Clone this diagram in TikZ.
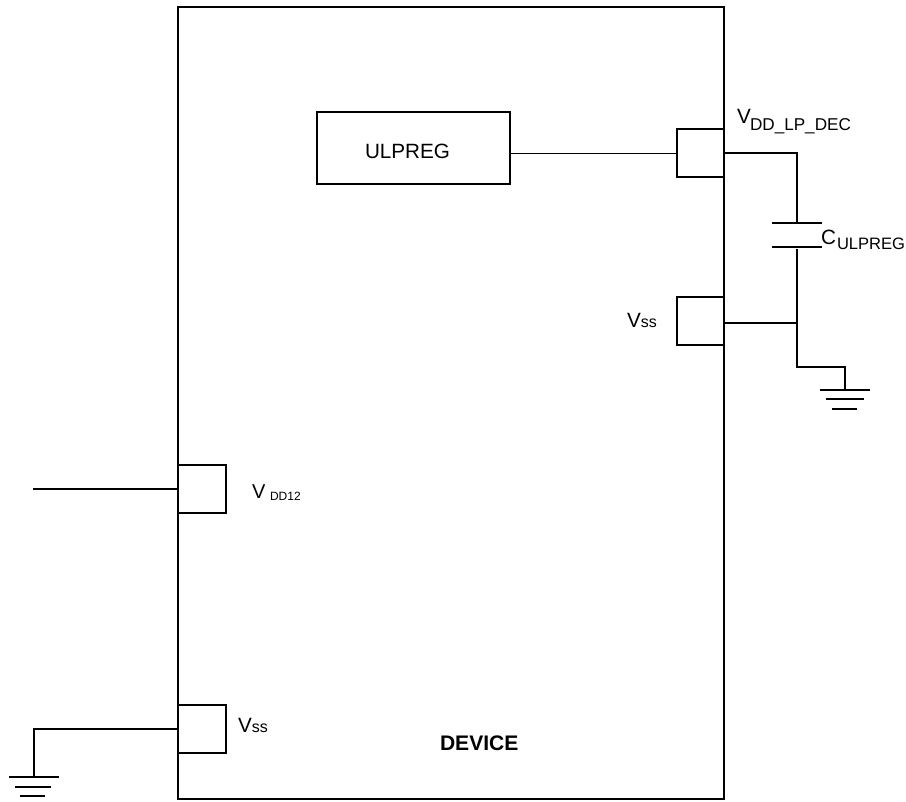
\documentclass[tikz,border=0pt]{standalone}
\usepackage{fontspec}
\setmainfont{Liberation Sans}
\newcommand{\fs}[1]{\fontsize{#1pt}{#1pt}\selectfont}
\newcommand{\pxbox}[5]{% name x0 y0 x1 y1 (pixels)
  \pgfmathsetmacro{\bw}{(#4-(#2))*0.75}\pgfmathsetmacro{\bh}{(#5-(#3))*0.75}
  \node[boxn,minimum width=\bw pt,minimum height=\bh pt] (#1) at ({(#2+#4)/2},{(#3+#5)/2}) {};}
\tikzset{
  x=0.75pt,y=-0.75pt,
  wire/.style={line width=1.15pt,line cap=butt,line join=miter},
  thinwire/.style={line width=0.6pt},
  boxn/.style={draw,line width=1.15pt,inner sep=0pt,outer sep=0pt},
  lbl/.style={anchor=base west,inner sep=0pt,outer sep=0pt},
}
\begin{document}
\begin{tikzpicture}
\useasboundingbox (0,0) rectangle (906,801);
\pxbox{device}{178}{7}{724}{799}
\pxbox{ulp}{317}{112}{510}{184}
\pxbox{padA}{677}{129}{724}{177}
\pxbox{padB}{677}{297}{724}{345}
\pxbox{padC}{178}{465}{226}{513}
\pxbox{padD}{178}{705}{226}{753}

\coordinate (capT) at (797,223);
\coordinate (capTl) at (772,223);
\coordinate (capTr) at (822,223);
\coordinate (capB) at (797,249);
\coordinate (capBl) at (772,247);
\coordinate (capBr) at (822,247);
\coordinate (padBo) at (724,323);
\coordinate (junc) at (797,323);
\coordinate (bend) at (797,367);
\coordinate (gndR) at (845,390);
\coordinate (gndL) at (34,777);
\coordinate (free) at (33,489);

\draw[thinwire] (padA.west) -- (padA.west -| ulp.east);
\draw[wire] (padA.east) -| (capT);
\draw[wire] (capTl) -- (capTr);
\draw[wire] (capBl) -- (capBr);
\draw[wire] (capB) -- (bend) -| (gndR);
\draw[wire] (padBo) -- (junc);
\draw[wire] (820,390) -- (870,390);
\draw[wire] (826,399) -- (864,399);
\draw[wire] (832,409) -- (857,409);

\draw[wire] (free) -- (padC.west);
\draw[wire] (padD.west) -| (gndL);
\draw[wire] (9,777) -- (59,777);
\draw[wire] (15,787) -- (51,787);
\draw[wire] (20,796) -- (45,796);

\node[lbl] (tulp) at (365,158) {\fs{15.5}ULPREG};
\node[lbl] (tvA) at (737,123) {\fs{15.5}V};
\node[lbl] (tvAs) at (750,130) {\fs{12.85}DD\_LP\_DEC};
\node[lbl] (tc) at (821,244) {\fs{15.5}C};
\node[lbl] (tcs) at (837,249) {\fs{12.4}ULPREG};
\node[lbl] (tvB) at (627,327) {\fs{15.5}V\fs{12}ss};
\node[lbl] (tvC) at (252,498) {\fs{15}V};
\node[lbl] (tvCs) at (270,500) {\fs{9}DD12};
\node[lbl] (tvD) at (238,732) {\fs{15.5}V\fs{12}ss};
\node[lbl] (tdev) at (440,750) {\fs{15.8}\bfseries DEVICE};
\end{tikzpicture}
\end{document}
